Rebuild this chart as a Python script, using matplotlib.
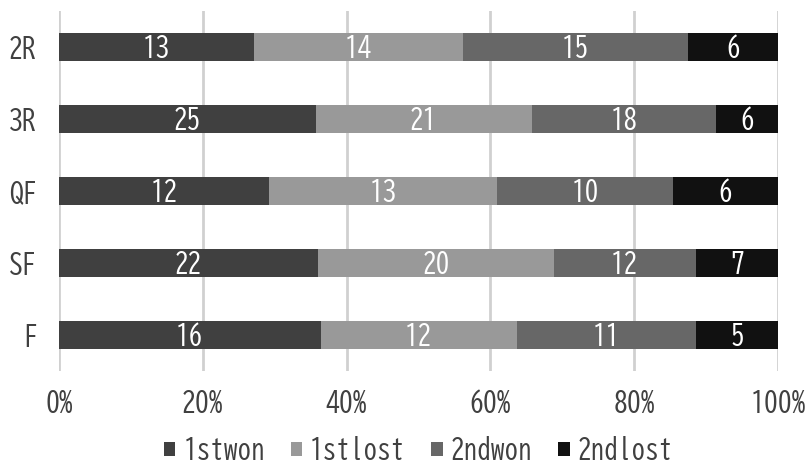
import matplotlib
matplotlib.use("Agg")
import matplotlib.pyplot as plt
import numpy as np

# rounds, top to bottom
rounds = ["2R", "3R", "QF", "SF", "F"]
series_names = ["1stwon", "1stlost", "2ndwon", "2ndlost"]
first_won = [13, 25, 12, 22, 16]
first_lost = [14, 21, 13, 20, 12]
second_won = [15, 18, 10, 12, 11]
second_lost = [6, 6, 6, 7, 5]
tick_labels = ["0%", "20%", "40%", "60%", "80%", "100%"]

colors = ["#404040", "#999999", "#676767", "#111111"]

plt.rcParams["font.family"] = ["BIZ UDGothic", "DejaVu Sans"]

fig = plt.figure(figsize=(8.11, 4.66), dpi=100)
ax = fig.add_axes([0.0728, 0.204, 0.8866, 0.7725])

counts = np.array([first_won, first_lost, second_won, second_lost], dtype=float)
shares = counts / counts.sum(axis=0)
ypos = np.arange(len(rounds))[::-1]

left = np.zeros(len(rounds))
for i, name in enumerate(series_names):
    ax.barh(ypos, shares[i], left=left, height=0.4, color=colors[i],
            label=name, zorder=3)
    for y, l, w, c in zip(ypos, left, shares[i], counts[i]):
        ax.text(l + w / 2, y, f"{int(c)}", ha="center", va="center",
                color="white", fontsize=19.5, zorder=4)
    left += shares[i]

ax.set_xlim(0, 1)
ax.set_ylim(-0.5, len(rounds) - 0.5)
ax.set_xticks(np.linspace(0, 1, 6))
ax.set_xticklabels(tick_labels, fontsize=20, color="#404040")
ax.set_yticks(ypos)
ax.set_yticklabels(rounds, fontsize=20, color="#404040")
ax.tick_params(axis="x", length=0, pad=13)
ax.tick_params(axis="y", length=0, pad=16)
ax.xaxis.grid(True, color="#d0d0d0", linewidth=2, zorder=0)
for s in ax.spines.values():
    s.set_visible(False)

fig.legend(loc="center", bbox_to_anchor=(0.516, 0.0365), ncol=4,
           frameon=False, fontsize=19.5, handlelength=0.42, handleheight=0.42,
           handletextpad=0.3, columnspacing=0.95, labelcolor="#404040",
           borderaxespad=0, borderpad=0)

fig.savefig("out.png", dpi=100)
